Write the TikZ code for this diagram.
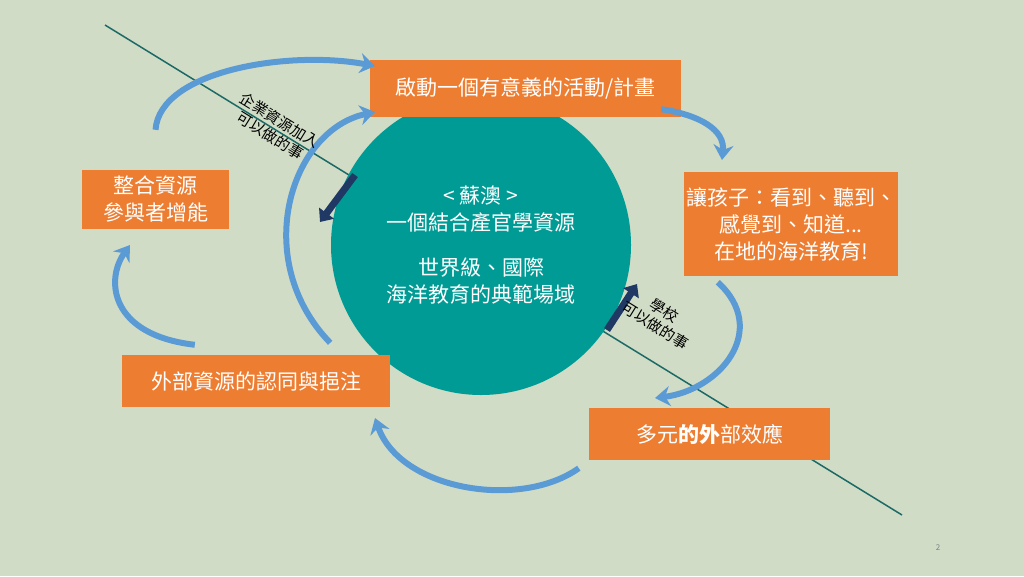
\documentclass[tikz,border=0pt]{standalone}
\usepackage{fontspec}
\setmainfont{Noto Sans CJK TC}
\usetikzlibrary{arrows.meta}
\definecolor{bgsage}{HTML}{D1DCC6}
\definecolor{boxorange}{HTML}{ED7D31}
\definecolor{hubteal}{HTML}{009B95}
\definecolor{linkblue}{HTML}{5B9BD5}
\definecolor{pushnavy}{HTML}{1F3864}
\definecolor{splitteal}{HTML}{1B6A66}
\begin{document}
\begin{tikzpicture}[x=1pt,y=-1pt,
    stepbox/.style={fill=boxorange,text=white,font=\fontsize{21}{27}\selectfont,
        align=center,inner sep=0pt},
    flow/.style={linkblue,line width=6pt,-{Stealth[length=15pt,width=20pt]}},
    push/.style={pushnavy,line width=7pt,-{Triangle[length=11pt,width=18pt]}},
    tag/.style={font=\fontsize{15}{18}\selectfont,align=center,rotate=-31.6},
]
    \fill[bgsage] (0,0) rectangle (1024,576);
    \useasboundingbox (0,0) rectangle (1024,576);
    % divide line
    \coordinate (ls) at (105,25);
    \coordinate (le) at (902,515);
    \draw[splitteal,line width=1.5pt] (ls) -- (le);
    % hub
    \node (hub) [circle,fill=hubteal,minimum size=300pt,text=white,align=center,
        font=\fontsize{21}{27}\selectfont] at (481,245)
        {< 蘇澳 >\\一個結合產官學資源\\[18pt]世界級、國際\\海洋教育的典範場域};
    % boxes
    \node (start) [stepbox,minimum width=311pt,minimum height=57pt] at (525.5,88.5) {啟動一個有意義的活動/計畫};
    \node (see) [stepbox,minimum width=214pt,minimum height=104pt] at (791,224)
        {讓孩子：看到、聽到、\\感覺到、知道...\\在地的海洋教育!};
    \node (effect) [stepbox,minimum width=241pt,minimum height=52pt] at (709.5,434) {多元\textbf{的外}部效應};
    \node (support) [stepbox,minimum width=268pt,minimum height=52pt] at (256,381) {外部資源的認同與挹注};
    \node (merge) [stepbox,minimum width=147pt,minimum height=59pt] at (155.5,199.5) {整合資源\\參與者增能};
    % cycle
    \draw[flow] (see.south west) ++(34,6) .. controls (770,330) and (720,390) .. (655,398);
    \draw[flow] (effect.south west) ++(-10,8) .. controls (520,510) and (400,490) .. (375,418);
    \draw[flow] (support.north west) ++(73,-10) .. controls (110,335) and (105,280) .. (130,245);
    \draw[flow] (merge.north) ++(0,-40) .. controls (160,70) and (290,50) .. (375,66);
    \draw[flow] (support.north east) ++(-60,-12) .. controls (250,260) and (290,130) .. (375,112);
    \draw[flow] (start.south east) ++(-20,-8) .. controls (700,115) and (725,130) .. (722,160);
    % pushes
    \draw[push] (355,175) -- (320,222);
    \draw[push] (607,330) -- (637,284);
    \node (bizTag) [tag] at (275,128) {企業資源加入\\可以做的事};
    \node (schoolTag) [tag] at (660,318) {學校\\可以做的事};
    \node (page) [text=gray,font=\fontsize{8}{9}\selectfont] at (938,548) {2};
\end{tikzpicture}
\end{document}
